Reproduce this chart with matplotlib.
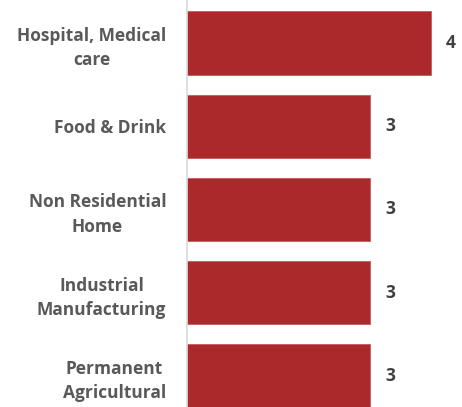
import matplotlib
matplotlib.use("Agg")
import matplotlib.pyplot as plt

categories = ["Hospital, Medical\ncare", "Food & Drink", "Non Residential\nHome",
              "Industrial\nManufacturing", "Permanent\nAgricultural"]
values = [4, 3, 3, 3, 3]

plt.rcParams['font.family'] = ['Open Sans', 'DejaVu Sans']

fig = plt.figure(figsize=(4.62, 4.07), dpi=100)
ax = fig.add_axes([187 / 462, 0, 275 / 462, 1])

pos = list(range(len(categories)))
ax.barh(pos, values, height=0.76, color="#AB292B", edgecolor="#C85A5B", linewidth=0.6)
ax.set_xlim(0, 275 / 61)
ax.set_ylim(4.372, -0.516)

for p, v in zip(pos, values):
    ax.text(v + 0.25, p, str(v), ha="left", va="center", fontsize=12.5,
            fontweight="bold", color="#404040")

ax.set_yticks(pos)
ax.set_yticklabels(categories, fontsize=12.5, fontweight="bold", color="#595959",
                   multialignment="center", linespacing=1.45)
ax.tick_params(axis="y", length=0, pad=15)
ax.set_xticks([])
for s in ["top", "right", "bottom"]:
    ax.spines[s].set_visible(False)
ax.spines["left"].set_color("#D9D9D9")
ax.spines["left"].set_linewidth(1.2)

fig.savefig("out.png", dpi=100)
